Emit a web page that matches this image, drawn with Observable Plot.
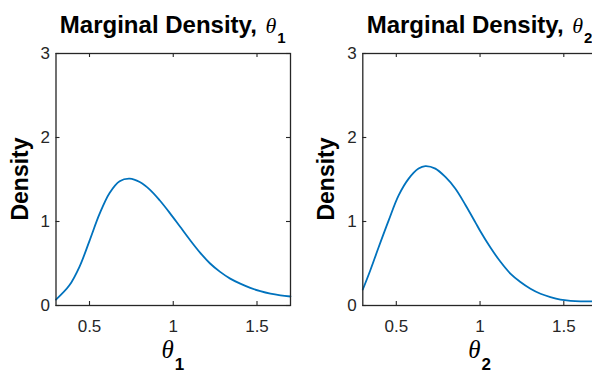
<!DOCTYPE html>
<html>
<head>
<meta charset="utf-8">
<script src="https://cdn.jsdelivr.net/npm/d3@7"></script>
<script src="https://cdn.jsdelivr.net/npm/@observablehq/plot@0.6"></script>
<style>
  html, body { margin: 0; padding: 0; background: #fff; }
  #wrap { position: relative; width: 592px; height: 374px; overflow: hidden; background: #fff; }
  #wrap > svg { position: absolute; top: 0; }
</style>
</head>
<body>
<div id="wrap"></div>
<script>
// ---- data ----
const theta1X = [0.30, 0.38, 0.44, 0.50, 0.56, 0.62, 0.68, 0.74, 0.80, 0.86, 0.92, 0.98, 1.04, 1.10, 1.16, 1.22, 1.28, 1.34, 1.40, 1.46, 1.52, 1.58, 1.64, 1.70];
const theta1Y = [0.07, 0.24, 0.46, 0.77, 1.09, 1.34, 1.48, 1.51, 1.47, 1.38, 1.25, 1.10, 0.94, 0.78, 0.63, 0.50, 0.40, 0.32, 0.26, 0.21, 0.17, 0.14, 0.12, 0.107];
const theta2X = [0.30, 0.345, 0.394, 0.454, 0.514, 0.574, 0.633, 0.673, 0.733, 0.793, 0.853, 0.912, 0.972, 1.00, 1.062, 1.122, 1.181, 1.241, 1.301, 1.361, 1.42, 1.48, 1.54, 1.60, 1.66, 1.70];
const theta2Y = [0.19, 0.42, 0.69, 1.01, 1.31, 1.51, 1.63, 1.66, 1.63, 1.53, 1.39, 1.20, 0.99, 0.89, 0.69, 0.52, 0.38, 0.28, 0.20, 0.14, 0.10, 0.07, 0.056, 0.05, 0.05, 0.05];
const xTicks = [0.5, 1, 1.5];
const yTicks = [0, 1, 2, 3];
const xDomain = [0.3, 1.7];
const yDomain = [0, 3];
const titles = [["Marginal Density, ", "θ", "1"], ["Marginal Density, ", "θ", "2"]];
const xLabels = [["θ", "1"], ["θ", "2"]];
const yLabel = "Density";

const INK = "#262626";
const LINE = "#0072BD";

function panel(xs, ys, opts) {
  const data = xs.map((x, i) => ({x, y: ys[i]}));
  const W = 300, H = 374;
  const mt = 53, mb = 69;
  const fh = H - mt - mb;
  const fw = W - opts.ml - opts.mr;
  const tick = 4;
  const svg = Plot.plot({
    width: W, height: H,
    marginLeft: opts.ml, marginRight: opts.mr, marginTop: mt, marginBottom: mb,
    style: {fontFamily: "'Liberation Sans', Arial, sans-serif", fontSize: "17px", color: INK, background: "transparent", overflow: "visible"},
    x: {domain: xDomain},
    y: {domain: yDomain},
    marks: [
      Plot.line(data, {x: "x", y: "y", stroke: LINE, strokeWidth: 1.8, curve: "catmull-rom"}),
      Plot.tickX(xTicks, {x: d => d, stroke: INK, strokeWidth: 1.1, insetTop: fh - tick}),
      Plot.tickX(xTicks, {x: d => d, stroke: INK, strokeWidth: 1.1, insetBottom: fh - tick}),
      Plot.tickY(yTicks, {y: d => d, stroke: INK, strokeWidth: 1.1, insetRight: fw - tick}),
      Plot.tickY(yTicks, {y: d => d, stroke: INK, strokeWidth: 1.1, insetLeft: fw - tick}),
      Plot.frame({stroke: INK, strokeWidth: 1.3}),
      Plot.axisX({ticks: xTicks, tickSize: 0, tickPadding: 14, tickFormat: d => String(d), label: null, fill: INK}),
      Plot.axisY({ticks: yTicks, tickSize: 0, tickPadding: 6, tickFormat: d => String(d), label: null, fill: INK})
    ]
  });
  svg.style.left = opts.left + "px";
  const s = d3.select(svg);
  const cx = opts.ml + fw / 2;
  // title
  const t = s.append("text").attr("x", cx).attr("y", 33).attr("text-anchor", "middle").attr("fill", "#000");
  t.append("tspan").text(opts.title[0]).attr("font-family", "'Liberation Sans', Arial, sans-serif").attr("font-weight", "bold").attr("font-size", 24);
  t.append("tspan").text(opts.title[1]).attr("font-family", "'Liberation Serif', 'Times New Roman', serif").attr("font-style", "italic").attr("font-size", 22).attr("dx", 2);
  t.append("tspan").text(opts.title[2]).attr("font-family", "'Liberation Sans', Arial, sans-serif").attr("font-weight", "bold").attr("font-size", 15).attr("dy", 10).attr("dx", 1);
  // x label
  const xl = s.append("text").attr("x", cx).attr("y", 358).attr("text-anchor", "middle").attr("fill", "#000");
  xl.append("tspan").text(opts.xlabel[0]).attr("font-family", "'Liberation Serif', 'Times New Roman', serif").attr("font-style", "italic").attr("font-size", 25);
  xl.append("tspan").text(opts.xlabel[1]).attr("font-family", "'Liberation Sans', Arial, sans-serif").attr("font-weight", "bold").attr("font-size", 17).attr("dy", 12).attr("dx", 1);
  // y label
  s.append("text").text(yLabel)
    .attr("transform", `translate(${opts.ml - 28},${mt + fh / 2}) rotate(-90)`)
    .attr("text-anchor", "middle")
    .attr("font-family", "'Liberation Sans', Arial, sans-serif").attr("font-weight", "bold").attr("font-size", 23).attr("fill", "#000");
  return svg;
}

const wrap = document.getElementById("wrap");
wrap.appendChild(panel(theta1X, theta1Y, {left: 0, ml: 55.5, mr: 10, title: titles[0], xlabel: xLabels[0]}));
wrap.appendChild(panel(theta2X, theta2Y, {left: 300, ml: 62.3, mr: 3.2, title: titles[1], xlabel: xLabels[1]}));
</script>
</body>
</html>
